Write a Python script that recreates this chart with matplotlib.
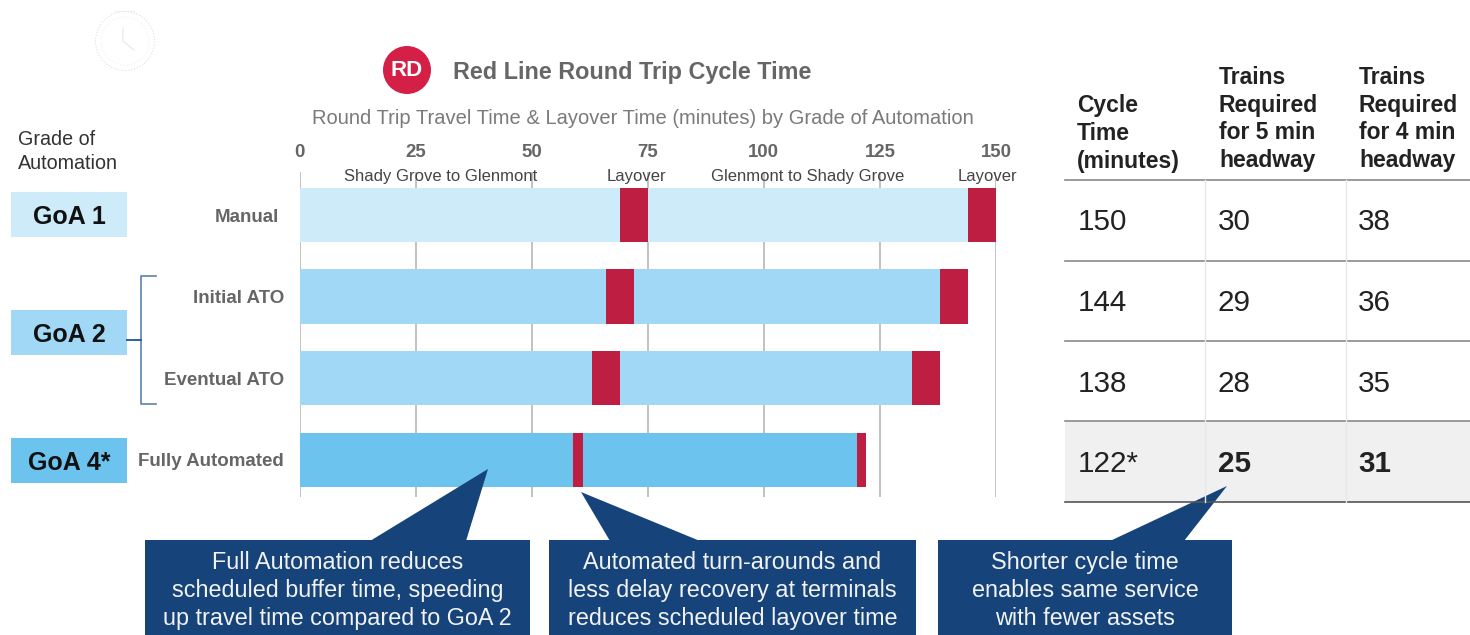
import matplotlib
matplotlib.use("Agg")
import matplotlib.pyplot as plt
from matplotlib.patches import Rectangle, Circle, Polygon
from matplotlib.transforms import ScaledTranslation

plt.rcParams['font.family'] = ['Liberation Sans', 'DejaVu Sans']

W, H = 1470, 635

categories = ["Manual", "Initial ATO", "Eventual ATO", "Fully Automated"]
outbound = [69, 66, 63, 59]
layover_a = [6, 6, 6, 2]
inbound = [69, 66, 63, 59]
layover_b = [6, 6, 6, 2]
x_ticks = [0, 25, 50, 75, 100, 125, 150]

bar_colors = ["#CDEBF8", "#A0D8F5", "#A0D8F5", "#6CC4EE"]
red = "#BE1E42"
navy = "#16447A"

grades = ["GoA 1", "GoA 2", "GoA 4*"]
table_header = ["Cycle\nTime\n(minutes)", "Trains\nRequired\nfor 5 min\nheadway", "Trains\nRequired\nfor 4 min\nheadway"]
cycle_time = ["150", "144", "138", "122*"]
trains_5 = ["30", "29", "28", "25"]
trains_4 = ["38", "36", "35", "31"]

callouts = [
    "Full Automation reduces\nscheduled buffer time, speeding\nup travel time compared to GoA 2",
    "Automated turn-arounds and\nless delay recovery at terminals\nreduces scheduled layover time",
    "Shorter cycle time\nenables same service\nwith fewer assets",
]

fig = plt.figure(figsize=(W / 100, H / 100), dpi=100, facecolor="white")

# chart axes
ax_l, ax_r, ax_t, ax_b = 299.5, 996, 172, 497
ax = fig.add_axes([ax_l / W, 1 - ax_b / H, (ax_r - ax_l) / W, (ax_b - ax_t) / H], facecolor="none")
ax.set_xlim(0, 150)
pitch = 81.6
ax.set_ylim((497 - 215) / pitch, (172 - 215) / pitch)
height = 54.5 / pitch
y = list(range(4))
ax.barh(y, outbound, height=height, color=bar_colors, zorder=3)
a_start = outbound
ax.barh(y, layover_a, left=a_start, height=height, color=red, zorder=3)
b_start = [i + j for i, j in zip(a_start, layover_a)]
ax.barh(y, inbound, left=b_start, height=height, color=bar_colors, zorder=3)
c_start = [i + j for i, j in zip(b_start, inbound)]
ax.barh(y, layover_b, left=c_start, height=height, color=red, zorder=3)
ax.set_xticks(x_ticks)
ax.set_yticks(y)
ax.set_yticklabels(categories, fontsize=13.5, fontweight="bold", color="#666666")
ax.xaxis.tick_top()
ax.tick_params(axis="x", length=0, pad=8, labelsize=13.4, labelcolor="#666666")
for t in ax.get_xticklabels():
    t.set_fontweight("bold")
ax.tick_params(axis="y", length=0, pad=11)
manual = ax.get_yticklabels()[0]
manual.set_transform(manual.get_transform() + ScaledTranslation(-5 / 100, 0, fig.dpi_scale_trans))
ax.grid(axis="x", color="#BDBDBD", lw=1.3, zorder=1)
for s in ax.spines.values():
    s.set_visible(False)

# overlay in pixel coordinates
ov = fig.add_axes([0, 0, 1, 1], facecolor="none", zorder=5)
ov.set_xlim(0, W)
ov.set_ylim(H, 0)
ov.axis("off")

# faint stopwatch
ov.add_patch(Circle((125, 41), 29.5, fill=False, ec="#DEDEDE", lw=0.8, ls=":"))
ov.add_patch(Circle((125, 41), 24, fill=False, ec="#EEEEEE", lw=0.6, ls=":"))
ov.plot([123, 123, 134], [28, 41, 50], color="#E6E6E6", lw=0.8)
ov.plot([115, 135], [11, 11], color="#E0E0E0", lw=0.8, ls=":")

# title
ov.add_patch(Circle((407, 70), 24, color="#D41F47", lw=0))
ov.text(407, 70.5, "RD", color="white", fontsize=16, fontweight="bold", ha="center", va="center")
ov.text(453, 72, "Red Line Round Trip Cycle Time", color="#666666", fontsize=16.8, fontweight="bold", va="center")
ov.text(643, 118, "Round Trip Travel Time & Layover Time (minutes) by Grade of Automation",
        color="#7A7A7A", fontsize=14.5, ha="center", va="center")

# segment labels
for xc, s in zip([441, 636, 808, 987], ["Shady Grove to Glenmont", "Layover", "Glenmont to Shady Grove", "Layover"]):
    ov.text(xc, 177, s, color="#444444", fontsize=12, ha="center", va="center")

# GoA boxes
ov.text(18, 151.5, "Grade of\nAutomation", color="#333333", fontsize=14.2, va="center", linespacing=1.3)
for (y0, y1), label, c in zip([(192, 237), (310, 355), (438, 483)], grades, [bar_colors[0], bar_colors[1], bar_colors[3]]):
    ov.add_patch(Rectangle((11.5, y0), 115.5, y1 - y0, color=c, lw=0))
    ov.text(69, (y0 + y1) / 2 + 2, label, color="#111111", fontsize=18, fontweight="bold", ha="center", va="center")
ov.plot([156, 141, 141, 156], [276, 276, 404, 404], color="#5B82AE", lw=1.2)
ov.plot([127, 141], [340, 340], color="#2F5F9B", lw=1.4)

# table
ov.add_patch(Rectangle((1065, 421), 405, 81, color="#F0F0F0", lw=0))
for yy, col in zip([179.5, 260.5, 341, 421, 502], ["#8A8A8A", "#8A8A8A", "#8A8A8A", "#8A8A8A", "#555555"]):
    ov.plot([1065, 1470], [yy, yy], color=col, lw=1.2)
for xx in [1205.5, 1346]:
    ov.plot([xx, xx], [180, 502], color="#E8E8E8", lw=1)
for xx, s, yc in zip([1077, 1219, 1359], table_header, [133.5, 119, 119]):
    ov.text(xx, yc, s, color="#222222", fontsize=16.5, fontweight="bold", va="center", linespacing=1.27)
for row, yc in enumerate([222, 303, 384, 464]):
    bold = "bold" if row == 3 else "normal"
    ov.text(1078, yc, cycle_time[row], color="#222222", fontsize=21.3, va="center")
    ov.text(1218, yc, trains_5[row], color="#222222", fontsize=21.3, va="center", fontweight=bold)
    ov.text(1358, yc, trains_4[row], color="#222222", fontsize=21.3, va="center", fontweight=bold)

# callouts
boxes = [(145, 530), (549, 916), (938, 1232)]
pointers = [[(488, 469), (370, 541), (466, 541)],
            [(581, 492), (610, 541), (700, 541)],
            [(1227, 486), (1110, 541), (1184, 541)]]
for (x0, x1), p, s in zip(boxes, pointers, callouts):
    ov.add_patch(Rectangle((x0, 540), x1 - x0, 95, color=navy, lw=0))
    ov.add_patch(Polygon(p, closed=True, color=navy, lw=0))
    ov.text((x0 + x1) / 2, 590.5, s, color="#F2F2F2", fontsize=16.8, ha="center", va="center", linespacing=1.26)

fig.savefig("out.png", dpi=100)
